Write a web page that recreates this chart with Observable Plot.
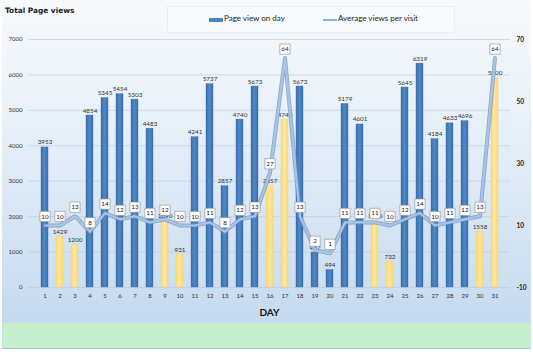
<!DOCTYPE html>
<html><head><meta charset="utf-8">
<script src="https://cdn.jsdelivr.net/npm/d3@7"></script>
<script src="https://cdn.jsdelivr.net/npm/@observablehq/plot@0.6"></script>
<style>
html,body{margin:0;padding:0;background:#fff;}
#wrap{position:relative;width:533px;height:352px;overflow:hidden;font-family:Lato,"Open Sans",sans-serif;}
#bg{position:absolute;left:2px;top:0;width:529px;height:323px;background:linear-gradient(#f7fafd 0%,#e9f1f9 35%,#c6daee 100%);}
#green{position:absolute;left:2px;top:323px;width:529px;height:25px;background:#c5eecc;border-bottom:1px solid #a9c3d6;}
#title{position:absolute;left:5px;top:6px;font-family:"DejaVu Sans",sans-serif;font-weight:bold;font-size:7.4px;color:#1a1a1a;}
#legend{position:absolute;left:167px;top:6px;width:288px;height:27px;background:rgba(250,252,254,0.7);border:1px solid #e6edf4;box-sizing:border-box;font-size:8px;color:#222;}
.sw1{position:absolute;left:41px;top:11px;width:14px;height:4px;background:#4a84c0;}
.t1{position:absolute;left:56px;top:6px;}
.sw2{position:absolute;left:155px;top:12px;width:14px;height:2px;background:#8fb0da;}
.t2{position:absolute;left:170px;top:6px;}
#chart{position:absolute;left:0;top:0;}
</style>
</head><body>
<div id="wrap">
<div id="bg"></div><div id="green"></div>
<div id="chart"></div>
<div id="title">Total Page views</div>
<div id="legend"><div class="sw1"></div><div class="t1">Page view on day</div><div class="sw2"></div><div class="t2">Average views per visit</div></div>
</div>
<script>
const days = [1,2,3,4,5,6,7,8,9,10,11,12,13,14,15,16,17,18,19,20,21,22,23,24,25,26,27,28,29,30,31];
const pageViews = [3953,1429,1200,4854,5345,5454,5303,4483,1890,931,4241,5737,2857,4740,5673,2857,4740,5673,987,494,5179,4601,1890,732,5645,6319,4184,4633,4696,1558,5900];
const avgViews = [10,10,13,8,14,12,13,11,12,10,10,11,8,12,13,27,64,13,2,1,11,11,11,10,12,14,10,11,12,13,64];
const weekendDays = [2,3,9,10,16,17,23,24,30,31];
const leftTicks = [0,1000,2000,3000,4000,5000,6000,7000];
const rightTicks = [-10,10,30,50,70];

// right axis (-10..70) mapped onto left axis (0..7000)
const toLeft = v => (v + 10) * 7000 / 80;
const data = days.map((d,i) => ({day: d, views: pageViews[i], avg: avgViews[i], avgY: toLeft(avgViews[i]), weekend: weekendDays.includes(d)}));

const plot = Plot.plot({
  width: 533, height: 352,
  marginTop: 39, marginBottom: 65, marginLeft: 28, marginRight: 23,
  style: {background: "transparent", fontFamily: "Lato, 'Open Sans', sans-serif"},
  x: {type: "band", domain: days, paddingInner: 0.55, paddingOuter: 0.3},
  y: {domain: [0, 7000]},
  marks: [
    Plot.gridY(leftTicks, {stroke: "#b4c6da", strokeOpacity: 0.55}),
    Plot.axisY(leftTicks, {anchor: "left", tickSize: 0, tickPadding: 6, fontSize: 6, fill: "#333", tickFormat: d => String(d), label: null}),
    Plot.axisY(rightTicks.map(toLeft), {anchor: "right", tickSize: 0, tickPadding: 6, fontSize: 6.5, fontWeight: "bold", fill: "#222", tickFormat: d => String(Math.round(d * 80 / 7000 - 10)), label: null}),
    Plot.axisX({tickSize: 0, tickPadding: 6, fontSize: 6, fill: "#333", label: "DAY", labelAnchor: "center", labelArrow: "none", labelOffset: 28}),
    Plot.barY(data, {x: "day", y: "views", fill: d => d.weekend ? "url(#gY)" : "url(#gB)", stroke: d => d.weekend ? "#f2cf6a" : "#3b6fa8", strokeWidth: 0.4}),
    Plot.text(data, {x: "day", y: "views", text: d => String(d.views), lineAnchor: "bottom", dy: -3, fontSize: 6.3, fill: "#333"}),
    Plot.line(data, {x: "day", y: "avgY", stroke: "#6f93c4", strokeWidth: 4, strokeOpacity: 0.75}),
    Plot.line(data, {x: "day", y: "avgY", stroke: "#a9c5e8", strokeWidth: 2.2}),
    Plot.dot(data, {x: "day", y: "avgY", symbol: "square", r: 5.8, fill: "white", stroke: "#8c8c8c", strokeWidth: 0.6, dy: -9}),
    Plot.text(data, {x: "day", y: "avgY", text: d => String(d.avg), dy: -9, fontSize: 6.3, fill: "#222"})
  ]
});

// gradients for bars
const svg = d3.select(plot);
const defs = svg.insert("defs", ":first-child");
const gB = defs.append("linearGradient").attr("id", "gB").attr("x1", "0").attr("x2", "1").attr("y1", "0").attr("y2", "0");
gB.append("stop").attr("offset", "0%").attr("stop-color", "#3a6fac");
gB.append("stop").attr("offset", "50%").attr("stop-color", "#4f88c6");
gB.append("stop").attr("offset", "100%").attr("stop-color", "#3a6fac");
const gY = defs.append("linearGradient").attr("id", "gY").attr("x1", "0").attr("x2", "1").attr("y1", "0").attr("y2", "0");
gY.append("stop").attr("offset", "0%").attr("stop-color", "#fbd978");
gY.append("stop").attr("offset", "50%").attr("stop-color", "#ffe69a");
gY.append("stop").attr("offset", "100%").attr("stop-color", "#fbd978");
// style DAY label
svg.selectAll("[aria-label='x-axis label'] text").attr("font-size", 10).attr("font-weight", "bold").attr("fill", "#111");
document.getElementById("chart").appendChild(plot);
</script>
</body></html>
